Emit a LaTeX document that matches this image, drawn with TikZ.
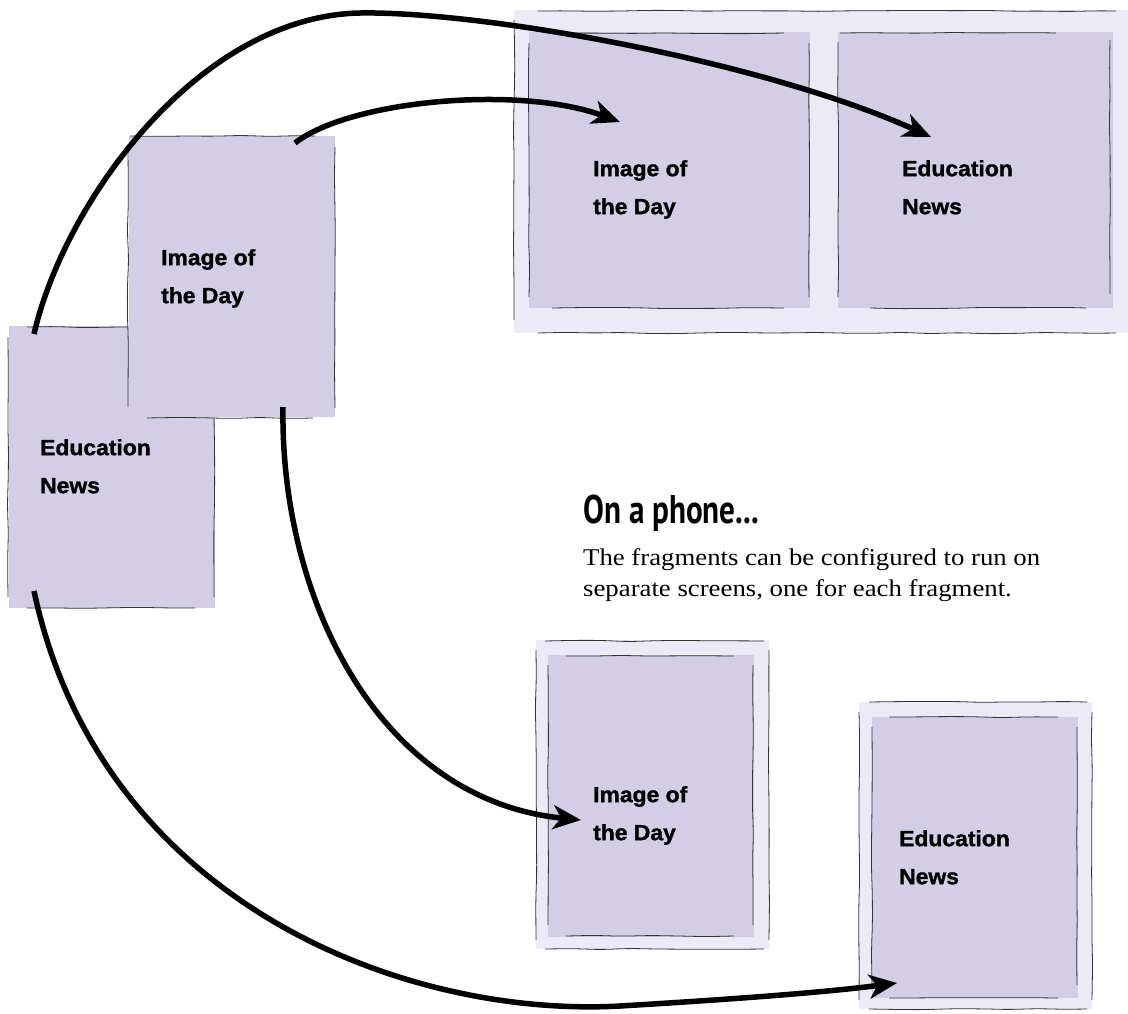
\documentclass[tikz,border=0pt]{standalone}
\usepackage{fontspec}
\usetikzlibrary{arrows.meta,decorations.pathmorphing}
\newfontfamily\labelfont[FakeStretch=1.04, BoldFont={Liberation Sans Bold}, BoldFeatures={FakeBold=1.3}]{Liberation Sans}
\newfontfamily\headfont[FakeStretch=0.78]{PT Sans}
\newfontfamily\bodyfont[FakeStretch=1.115]{Liberation Serif}
\definecolor{scrn}{RGB}{211,206,229}
\definecolor{bezel}{RGB}{236,234,246}
\tikzset{
  scrnbox/.style={fill=scrn, draw=none, inner sep=0pt, anchor=north west},
  bezelbox/.style={fill=bezel, draw=none, inner sep=0pt, anchor=north west},
  sk/.style={draw=black!80, line width=0.8pt, decorate,
    decoration={random steps, segment length=28pt, amplitude=0.7pt}, rounded corners=10pt},
  arr/.style={line width=5.5pt, -{Stealth[length=28pt,width=24pt,inset=8pt]}},
  lbl/.style={font=\labelfont\bfseries\fontsize{22}{38}\selectfont, align=left, anchor=north west, inner sep=0pt},
}
\pgfmathsetseed{7}
\begin{document}
\begin{tikzpicture}[x=1pt,y=-1pt]
\useasboundingbox (0,0) rectangle (1128,1013);

% ---------- top tablet ----------
\node[bezelbox, minimum width=614pt, minimum height=323pt] (tab) at (514,10) {};
\node[scrnbox, minimum width=281pt, minimum height=276pt] (tabL) at (529,32) {};
\node[scrnbox, minimum width=275pt, minimum height=276pt] (tabR) at (838,32) {};
\draw[sk] (538,11) -- (1116,11);
\draw[sk] (538,333) -- (1116,333);
\draw[sk] (514,20) -- (514,320);
\draw[sk] (552,33) -- (784,33);
\draw[sk] (552,308) -- (784,308);
\draw[sk] (529,43) -- (529,297);
\draw[sk] (809,43) -- (809,297);
\draw[sk] (840,33) -- (1056,33);
\draw[sk] (870,308) -- (1086,308);
\draw[sk] (838,42) -- (838,297);
\draw[sk] (1110,40) -- (1110,294);
\node[lbl] (tI) at (593,160) {Image of\\the Day};
\node[lbl] (tE) at (902,160) {Education\\News};

% ---------- left fragments ----------
\node[scrnbox, minimum width=206pt, minimum height=282pt] (fragE) at (9,326) {};
\draw[sk] (27,327) -- (128,327);
\draw[sk] (27,608) -- (195,608);
\draw[sk] (8,337) -- (8,597);
\draw[sk] (214,418) -- (214,597);
\node[scrnbox, minimum width=206pt, minimum height=281pt] (fragI) at (129,136) {};
\draw[sk] (130,136) -- (315,136);
\draw[sk] (147,418) -- (313,418);
\draw[sk] (128,147) -- (128,407);
\draw[sk] (335,147) -- (335,408);
\node[lbl] (fI) at (161,249) {Image of\\the Day};
\node[lbl] (fE) at (40,439) {Education\\News};

% ---------- phones ----------
\node[bezelbox, minimum width=233pt, minimum height=309pt] (ph1) at (536,640) {};
\node[scrnbox, minimum width=206pt, minimum height=282pt] (ph1s) at (548,655) {};
\draw[sk] (545,641) -- (764,641);
\draw[sk] (545,949) -- (764,949);
\draw[sk] (536,650) -- (536,940);
\draw[sk] (769,650) -- (769,940);
\draw[sk] (566,656) -- (734,656);
\draw[sk] (566,936) -- (734,936);
\draw[sk] (548,665) -- (548,925);
\draw[sk] (753,665) -- (753,925);
\node[lbl] (pI) at (593,786) {Image of\\the Day};

\node[bezelbox, minimum width=233pt, minimum height=307pt] (ph2) at (859,702) {};
\node[scrnbox, minimum width=206pt, minimum height=281pt] (ph2s) at (872,717) {};
\draw[sk] (869,702) -- (1087,702);
\draw[sk] (869,1009) -- (1087,1009);
\draw[sk] (859,712) -- (859,1000);
\draw[sk] (1092,712) -- (1092,1000);
\draw[sk] (889,717) -- (1058,717);
\draw[sk] (889,998) -- (1058,998);
\draw[sk] (872,727) -- (872,985);
\draw[sk] (1077,727) -- (1077,985);
\node[lbl] (pE) at (899,830) {Education\\News};

% ---------- text ----------
\node[font=\headfont\bfseries\fontsize{40}{44}\selectfont, anchor=base west, inner sep=0pt] (head) at (583,523) {On a phone...};
\node[font=\bodyfont\fontsize{24}{31}\selectfont, align=left, anchor=north west, inner sep=0pt] (body) at (583,548)
  {The fragments can be configured to run on\\separate screens, one for each fragment.};

% ---------- arrows ----------
\coordinate (a1s) at (295,143);
\coordinate (a1e) at (620,122);
\coordinate (a2s) at (34,334);
\coordinate (a2m) at (360,13);
\coordinate (a2e) at (931,137);
\coordinate (a3s) at (283,407);
\coordinate (a3e) at (581,820);
\coordinate (a4s) at (34,591);
\coordinate (a4m) at (620,1006);
\coordinate (a4e) at (897,983);
\draw[arr] (a1s) .. controls (350,100) and (520,85) .. (a1e);
\draw[arr] (a2s) .. controls (65,200) and (200,16) .. (a2m) .. controls (480,11) and (760,60) .. (a2e);
\draw[arr] (a3s) .. controls (280,600) and (380,800) .. (a3e);
\draw[arr] (a4s) .. controls (100,900) and (400,1018) .. (a4m) .. controls (720,1000) and (820,993) .. (a4e);
\end{tikzpicture}
\end{document}
